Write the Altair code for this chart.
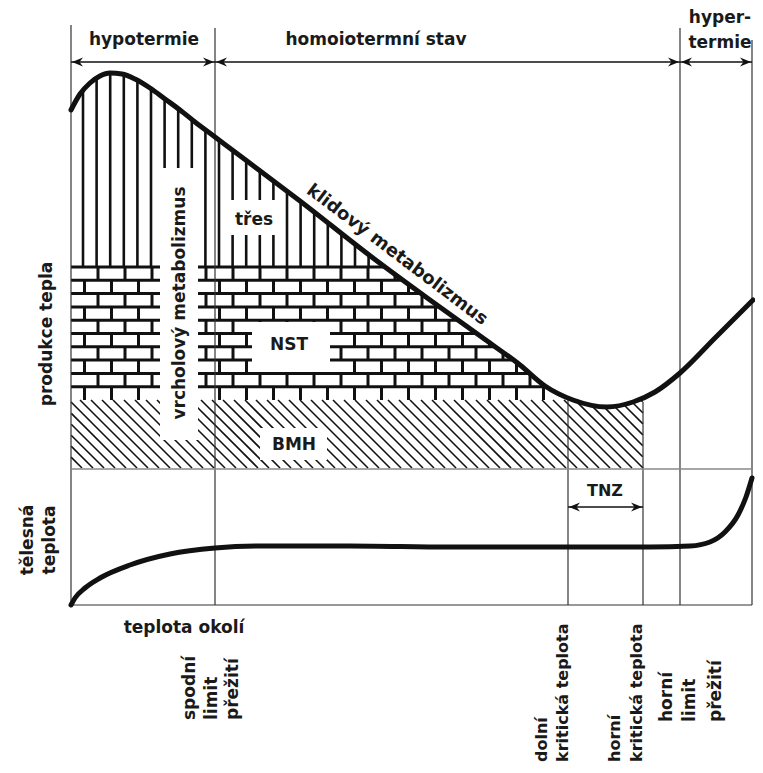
import altair as alt
import pandas as pd
import numpy as np

# ---------------- values (picture px units) ----------------
# resting metabolism curve (klidový metabolizmus)
heat_x = [71, 80, 90, 100, 110, 122, 135, 150, 165, 180, 195, 215, 247, 300, 373, 430, 490, 520, 545, 573, 607, 633, 655, 680, 715, 753]
heat_y = [110, 94, 83, 76, 73, 74, 79, 88, 99, 110, 122, 137, 161, 201, 258, 300, 343, 365, 386, 400, 407, 402, 392, 373, 338, 300]
# body temperature curve (tělesná teplota)
body_x = [71, 75, 85, 100, 130, 170, 215, 260, 350, 450, 550, 650, 690, 710, 725, 738, 746, 752]
body_y = [605, 598, 588, 578, 565, 554, 548, 546, 546, 547, 547, 547, 546, 542, 532, 515, 497, 478]

# frame / boundary lines
frame_x = [71, 215, 680, 752, 568, 643, 71]
frame_y = [25, 28, 28, 40, 400, 402, 605]
frame_x2 = [71, 215, 680, 752, 568, 643, 752]
frame_y2 = [605, 605, 605, 605, 605, 605, 605]
panel_x, panel_x2, panel_y = [71], [752], [469]

# zones
brick_top, bmh_top, bmh_bottom, bmh_right = 267, 400, 468, 643
brick_h, brick_w = 13.3, 27
vhatch_start, vhatch_step = 83, 13.6
dhatch_step = 11

# double arrows (top zones + TNZ)
arrow_x1 = [71, 215, 680, 568]
arrow_x2 = [215, 680, 752, 643]
arrow_y = [62, 62, 62, 507]

# blank areas behind labels
gap_x = [160, 230, 252, 260]
gap_x2 = [198, 280, 330, 327]
gap_y = [168, 200, 322, 428]
gap_y2 = [440, 235, 372, 460]

# labels
h_text = ["hypotermie", "homoiotermní stav", "hyper-", "termie", "teplota okolí", "třes", "NST", "BMH", "TNZ"]
h_x = [144, 376, 720, 720, 184, 254, 289, 294, 605]
h_y = [40, 40, 18, 43, 628, 220, 345, 445, 491]
h_s = [17, 17, 17, 17, 17, 17, 17, 17, 16]

vc_text = ["produkce tepla", "tělesná", "teplota", "vrcholový metabolizmus"]
vc_x = [47, 28, 50, 180]
vc_y = [334, 540, 540, 303]

vl_text = ["spodní", "limit", "přežití", "dolní", "kritická teplota", "horní", "kritická teplota", "horní", "limit", "přežití"]
vl_x = [190, 212, 233, 542, 563, 615, 637, 667, 690, 716]
vl_y = [720, 720, 720, 762, 762, 762, 762, 722, 722, 722]
vl_s = [17, 17, 17, 16, 16, 16, 16, 17, 17, 17]

curve_label = ["klidový metabolizmus"]
curve_label_x, curve_label_y, curve_label_angle = [397], [255], [37]

# ---------------- scales ----------------
XS = alt.Scale(domain=[8, 755], nice=False, zero=False)
YS = alt.Scale(domain=[8, 765], nice=False, zero=False, reverse=True)
FONT = "DejaVu Sans"
INK = "#111111"

hx = np.array(heat_x, float)
hy = np.array(heat_y, float)
peak = int(np.argmin(hy))
low = int(np.argmax(hy))


def curve_at(x):
    return np.interp(x, hx, hy)


def curve_x_at(y):
    return np.interp(y, hy[peak:low + 1], hx[peak:low + 1])


# vertical hatching (třes region)
vh = []
x = vhatch_start
while x < 753:
    top = curve_at(x)
    if top < brick_top - 2 and x < 500:
        vh.append((x, top + 1, x, brick_top))
    x += vhatch_step
vh = pd.DataFrame(vh, columns=["x", "y", "x2", "y2"])

# brick pattern (NST region)
bricks = []
for k in range(10):
    yk = brick_top + brick_h * k
    yb = yk + brick_h
    xe = curve_x_at(yk)
    bricks.append((71, yk, xe, yk))
    xj = 71 + brick_w if k % 2 == 0 else 71 + brick_w / 2
    while xj < 600:
        c = curve_at(xj)
        if c < yb - 2:
            bricks.append((xj, max(yk, c + 1), xj, yb))
        xj += brick_w
bricks = pd.DataFrame(bricks, columns=["x", "y", "x2", "y2"])

# diagonal hatching (BMH region)
dh = []
x0 = 71 - (bmh_bottom - bmh_top)
while x0 < bmh_right:
    xsamp = np.linspace(x0, x0 + (bmh_bottom - bmh_top), 200)
    ysamp = bmh_top + (xsamp - x0)
    ok = (xsamp >= 71) & (xsamp <= bmh_right) & (ysamp <= bmh_bottom) & (ysamp >= np.maximum(bmh_top, curve_at(xsamp) + 2))
    if ok.sum() > 1:
        idx = np.where(ok)[0]
        dh.append((xsamp[idx[0]], ysamp[idx[0]], xsamp[idx[-1]], ysamp[idx[-1]]))
    x0 += dhatch_step
dh = pd.DataFrame(dh, columns=["x", "y", "x2", "y2"])


def rules(df, color, width, cap="butt"):
    return alt.Chart(df).mark_rule(color=color, strokeWidth=width, strokeCap=cap).encode(
        x=alt.X("x:Q", scale=XS, axis=None),
        y=alt.Y("y:Q", scale=YS, axis=None),
        x2="x2:Q",
        y2="y2:Q",
    )


frame = pd.DataFrame({"x": frame_x, "y": frame_y, "x2": frame_x2, "y2": frame_y2})
panel = pd.DataFrame({"x": panel_x, "y": panel_y, "x2": panel_x2, "y2": panel_y})
arrows = pd.DataFrame({"x": arrow_x1, "y": arrow_y, "x2": arrow_x2, "y2": arrow_y})
heads_l = pd.DataFrame({"x": [v + 1 for v in arrow_x1], "y": arrow_y})
heads_r = pd.DataFrame({"x": [v - 1 for v in arrow_x2], "y": arrow_y})
gaps = pd.DataFrame({"x": gap_x, "x2": gap_x2, "y": gap_y, "y2": gap_y2})

gap_layer = alt.Chart(gaps).mark_rect(color="white").encode(
    x=alt.X("x:Q", scale=XS, axis=None), x2="x2:Q",
    y=alt.Y("y:Q", scale=YS, axis=None), y2="y2:Q")


def curve(xs, ys, width):
    df = pd.DataFrame({"x": xs, "y": ys})
    return alt.Chart(df).mark_line(color=INK, strokeWidth=width, interpolate="monotone",
                                   strokeCap="round").encode(
        x=alt.X("x:Q", scale=XS, axis=None), y=alt.Y("y:Q", scale=YS, axis=None))


def heads(df, path):
    return alt.Chart(df).mark_point(shape=path, filled=True, size=100, color=INK, opacity=1,
                                    strokeWidth=0).encode(
        x=alt.X("x:Q", scale=XS, axis=None), y=alt.Y("y:Q", scale=YS, axis=None))


def texts(t, xs, ys, sizes, angle, align):
    df = pd.DataFrame({"t": t, "x": xs, "y": ys, "s": sizes})
    return alt.Chart(df).mark_text(font=FONT, fontWeight="bold", color="#1a1a1a",
                                   align=align, baseline="middle", angle=angle).encode(
        x=alt.X("x:Q", scale=XS, axis=None), y=alt.Y("y:Q", scale=YS, axis=None),
        text="t:N", size=alt.Size("s:Q", scale=None))


layers = [
    rules(dh, "#111111", 1.6),
    rules(vh, INK, 2.6),
    rules(bricks, INK, 3),
    gap_layer,
    rules(frame, "#333333", 1.2),
    rules(panel, "#888888", 1.6),
    rules(arrows, INK, 1.6),
    heads(heads_r, "M0,0L-2.2,-0.9L-1.5,0L-2.2,0.9Z"),
    heads(heads_l, "M0,0L2.2,-0.9L1.5,0L2.2,0.9Z"),
    curve(heat_x, heat_y, 5),
    curve(body_x, body_y, 5),
    texts(h_text, h_x, h_y, h_s, 0, "center"),
    texts(vc_text, vc_x, vc_y, [17] * len(vc_text), 270, "center"),
    texts(vl_text, vl_x, vl_y, vl_s, 270, "left"),
    texts(curve_label, curve_label_x, curve_label_y, [18], curve_label_angle[0], "center"),
]

chart = alt.layer(*layers).properties(
    width=747, height=757, padding=0, autosize="none", background="white"
).configure_view(stroke=None)

chart.save("out.html", embed_options={"renderer": "svg", "actions": False})
